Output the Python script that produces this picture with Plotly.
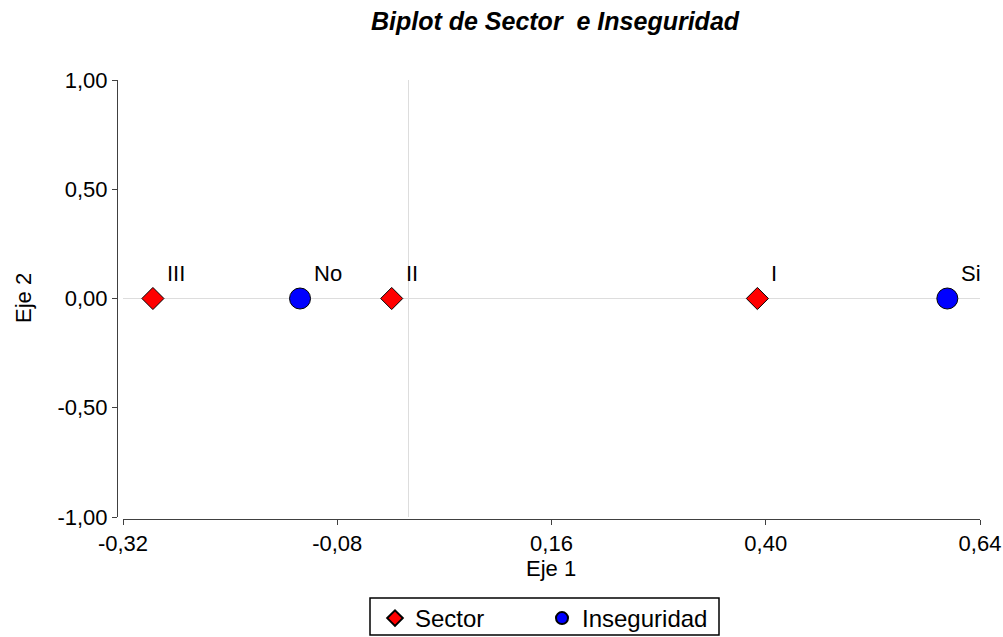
import plotly.graph_objects as go

sector_labels = ["III", "II", "I"]
sector_x = [-0.2865, -0.019, 0.3906]
sector_y = [0.0, 0.0, 0.0]

inseg_labels = ["No", "Si"]
inseg_x = [-0.1217, 0.6034]
inseg_y = [0.0, 0.0]

x_ticks = [-0.32, -0.08, 0.16, 0.40, 0.64]
x_ticktext = ["-0,32", "-0,08", "0,16", "0,40", "0,64"]
y_ticks = [-1.0, -0.5, 0.0, 0.5, 1.0]
y_ticktext = ["-1,00", "-0,50", "0,00", "0,50", "1,00"]

FONT = "Liberation Sans, Arial, sans-serif"
W, H = 1003, 637
ml, mr, mt, mb = 117, 23, 80, 118
pw = W - ml - mr
ph = H - mt - mb


def px_x(p):
    return (p - ml) / pw


def px_y(p):
    return (H - mb - p) / ph


fig = go.Figure()
fig.add_trace(go.Scatter(
    x=sector_x, y=sector_y, mode="markers", name="Sector", legend="legend",
    marker=dict(symbol="diamond", size=17, color="#ff0000",
                line=dict(color="black", width=1)),
))
fig.add_trace(go.Scatter(
    x=inseg_x, y=inseg_y, mode="markers", name="Inseguridad", legend="legend2",
    marker=dict(symbol="circle", size=21, color="#0000ff",
                line=dict(color="black", width=1)),
))

annotations = []
for lab, xv, yv in list(zip(sector_labels, sector_x, sector_y)) + list(zip(inseg_labels, inseg_x, inseg_y)):
    annotations.append(dict(
        x=xv, y=yv, xref="x", yref="y", text=lab, showarrow=False,
        xanchor="left", yanchor="middle", xshift=12, yshift=25,
        font=dict(size=22, color="black", family=FONT),
    ))
# axis titles
annotations.append(dict(x=px_x(551), y=px_y(568), xref="paper", yref="paper",
                        text="Eje 1", showarrow=False, xanchor="center", yanchor="middle",
                        font=dict(size=22, color="black", family=FONT)))
annotations.append(dict(x=px_x(23), y=px_y(298), xref="paper", yref="paper",
                        text="Eje 2", showarrow=False, xanchor="center", yanchor="middle",
                        textangle=-90, font=dict(size=22, color="black", family=FONT)))

legend_common = dict(orientation="h", xref="container", yref="container",
                     xanchor="left", yanchor="top", borderwidth=0,
                     bgcolor="rgba(0,0,0,0)",
                     font=dict(size=24, color="black", family=FONT),
                     itemsizing="constant")

fig.update_layout(
    width=W, height=H,
    margin=dict(l=ml, r=mr, t=mt, b=mb, autoexpand=False),
    paper_bgcolor="white", plot_bgcolor="white",
    font=dict(family=FONT, size=22, color="black"),
    title=dict(text="<b><i>Biplot de Sector&nbsp; e Inseguridad</i></b>",
               x=555 / W, xanchor="center", xref="container",
               y=1 - 21 / H, yanchor="middle", yref="container",
               font=dict(size=25, color="black", family=FONT)),
    showlegend=True,
    legend=dict(x=375 / W, y=1 - 596 / H, **legend_common),
    legend2=dict(x=542 / W, y=1 - 596 / H, **legend_common),
    annotations=annotations,
    shapes=[dict(type="rect", xref="paper", yref="paper",
                 x0=px_x(370), x1=px_x(719), y0=px_y(598), y1=px_y(635),
                 line=dict(color="black", width=1.5), fillcolor="rgba(0,0,0,0)",
                 layer="above")],
    xaxis=dict(
        range=[-0.32, 0.64], domain=[6 / pw, 1], anchor="free", position=0,
        tickvals=x_ticks, ticktext=x_ticktext, automargin=False,
        showgrid=False, zeroline=True, zerolinecolor="#dddddd", zerolinewidth=1,
        showline=True, linecolor="#404040", linewidth=1,
        ticks="outside", ticklen=5, tickcolor="#404040",
        tickfont=dict(size=22, color="black", family=FONT),
    ),
    yaxis=dict(
        range=[-1, 1], domain=[2 / ph, 1], anchor="free", position=0,
        tickvals=y_ticks, ticktext=y_ticktext, automargin=False,
        showgrid=False, zeroline=True, zerolinecolor="#dddddd", zerolinewidth=1,
        showline=True, linecolor="#404040", linewidth=1,
        ticks="outside", ticklen=5, tickcolor="#404040",
        tickfont=dict(size=22, color="black", family=FONT),
    ),
)

fig.write_html("out.html", config={"displayModeBar": False},
               post_script="document.body.style.margin='0px';document.body.style.overflow='hidden';")
